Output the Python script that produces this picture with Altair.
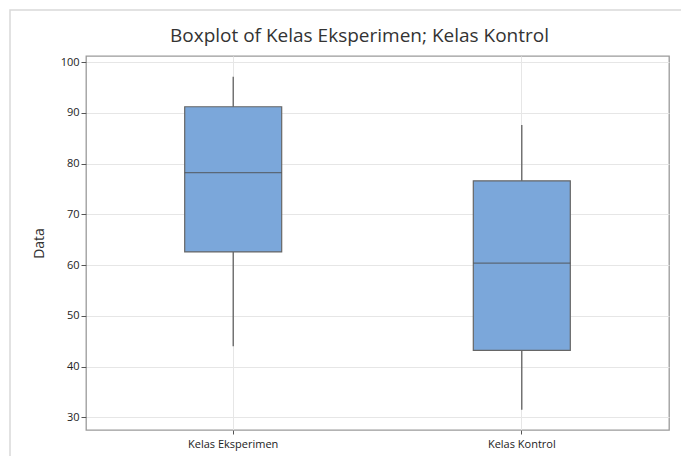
import altair as alt
import pandas as pd

categories = ["Kelas Eksperimen", "Kelas Kontrol"]
whisker_low = [44.0, 31.5]
q1 = [62.6, 43.2]
median = [78.2, 60.4]
q3 = [91.2, 76.6]
whisker_high = [97.1, 87.6]
title_text = ["Boxplot of Kelas Eksperimen; Kelas Kontrol"]

df = pd.DataFrame({
    "cat": categories,
    "lo": whisker_low,
    "q1": q1,
    "med": median,
    "q3": q3,
    "hi": whisker_high,
})

W, H = 583, 374
FONT = "Open Sans"

xenc = alt.X("cat:N", sort=categories,
             scale=alt.Scale(type="band", paddingInner=0, paddingOuter=0.01),
             axis=alt.Axis(title=None, labelAngle=0, bandPosition=0.5, tickSize=4,
                           grid=True, domain=False, labelPadding=4))
yscale = alt.Scale(domain=[27.5, 101.2], nice=False, zero=False)
yaxis = alt.Axis(title="Data", values=[30, 40, 50, 60, 70, 80, 90, 100],
                 tickSize=5, grid=True, domain=False, titlePadding=14)

base = alt.Chart(df)

border = alt.Chart(pd.DataFrame({"a": [0]})).mark_rect(
    fill=None, stroke="#d9d9d9", strokeWidth=1.5
).encode(
    x=alt.value(-76), x2=alt.value(W + 200),
    y=alt.value(-46), y2=alt.value(H + 200)
)

title = alt.Chart(pd.DataFrame({"t": title_text})).mark_text(
    font=FONT, fontSize=19, color="#333333", align="center", baseline="middle"
).encode(
    x=alt.value(W / 2 - 18), y=alt.value(-20), text="t:N"
)

whisk = base.mark_rule(color="#555555", strokeWidth=1.2).encode(
    x=xenc,
    y=alt.Y("lo:Q", scale=yscale, axis=yaxis),
    y2="hi:Q",
)

box = base.mark_bar(size=97, fill="#7BA7DA", stroke="#666666", strokeWidth=1.2).encode(
    x=xenc,
    y=alt.Y("q1:Q", scale=yscale, axis=yaxis),
    y2="q3:Q",
)

med = base.mark_tick(size=97, thickness=1.3, color="#4d4d4d").encode(
    x=xenc,
    y=alt.Y("med:Q", scale=yscale, axis=yaxis),
)

chart = alt.layer(border, title, whisk, box, med).properties(
    width=W, height=H,
    autosize="none",
    padding={"left": 78, "top": 48, "right": 12, "bottom": 26},
).configure_view(
    stroke="#9a9a9a", strokeWidth=1.3
).configure_axis(
    labelFont=FONT, titleFont=FONT, labelFontSize=11, titleFontSize=14,
    titleFontWeight="normal", labelColor="#222222", titleColor="#333333",
    tickColor="#555555", gridColor="#e6e6e6", gridWidth=1,
)

chart.save("out.html", embed_options={"renderer": "svg", "actions": False})
